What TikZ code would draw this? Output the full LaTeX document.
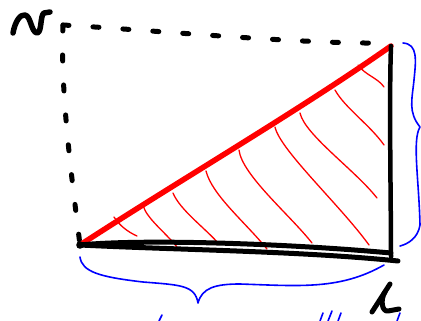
\documentclass[tikz,border=0pt]{standalone}
\begin{document}
\begin{tikzpicture}[x=1pt,y=-1pt,
  ink/.style={line width=4.5pt,line cap=round,line join=round,black},
  dotted line/.style={line width=5pt,line cap=round,black,dash pattern=on 6pt off 24pt},
  redthick/.style={line width=5.5pt,line cap=round,red},
  hatch/.style={line width=1.3pt,red,line cap=round},
  bluebrace/.style={line width=1.6pt,blue,line cap=round,line join=round}]
\useasboundingbox (0,0) rectangle (421,321);
\coordinate (O) at (80,245);
\coordinate (A) at (391,46);
\coordinate (B) at (391,257);
\coordinate (C) at (63,25);
% dashed guides
\draw[dotted line] (C) .. controls (150,30) and (300,44) .. (382,43);
\draw[dotted line] (C) .. controls (60,90) and (72,180) .. (O);
% hatching
\draw[hatch] (114,217) .. controls (120,226) and (128,232) .. (137,236);
\draw[hatch] (143,205) .. controls (146,218) and (165,232) .. (177,247);
\draw[hatch] (173,193) .. controls (180,210) and (205,228) .. (219,244);
\draw[hatch] (206,171) .. controls (212,195) and (245,222) .. (267,249);
\draw[hatch] (239,150) .. controls (242,175) and (290,215) .. (312,243);
\draw[hatch] (275,127) .. controls (280,150) and (340,205) .. (369,245);
\draw[hatch] (300,113) .. controls (305,135) and (355,170) .. (377,198);
\draw[hatch] (335,90) .. controls (345,108) and (370,125) .. (384,145);
\draw[hatch] (358,65) .. controls (365,75) and (378,78) .. (384,87);
% hypotenuse
\draw[redthick] (O) .. controls (180,180) and (300,110) .. (A);
% black sides
\draw[ink] (A) .. controls (389,100) and (391,200) .. (B);
\draw[ink,line width=5pt] (O) .. controls (140,239) and (280,243) .. (391,253);
\draw[ink,line width=5pt] (O) .. controls (180,250) and (300,251) .. (398,261);
\fill (O) circle (3.8pt);
% braces
\draw[bluebrace] (403,43) .. controls (418,44) and (416,60) .. (414,80)
  .. controls (412,100) and (408,112) .. (420,127)
  .. controls (412,140) and (419,180) .. (420,225)
  .. controls (418,238) and (408,244) .. (400,246);
\draw[bluebrace] (80,257) .. controls (82,272) and (100,277) .. (143,282)
  .. controls (180,285) and (195,285) .. (198,303)
  .. controls (202,288) and (215,284) .. (240,284)
  .. controls (300,286) and (340,290) .. (384,265);
% partial blue marks at bottom edge
\draw[bluebrace] (162,315) -- (159,321);
\draw[bluebrace] (323,313) -- (320,321);
\draw[bluebrace] (332,311) -- (328,321);
\draw[bluebrace] (341,313) -- (338,321);
\draw[bluebrace] (400,313) -- (397,321);
% handwritten labels
\draw[ink,line width=5.5pt] (13,33) .. controls (15,22) and (20,14) .. (25,15)
  .. controls (31,16) and (31,32) .. (37,33)
  .. controls (42,33) and (40,15) .. (44,13) -- (50,12);
\draw[ink,line width=5pt] (390,284) -- (372,312);
\draw[ink,line width=5pt] (385,292) .. controls (380,300) and (382,312) .. (388,311) -- (399,309);
\end{tikzpicture}
\end{document}
